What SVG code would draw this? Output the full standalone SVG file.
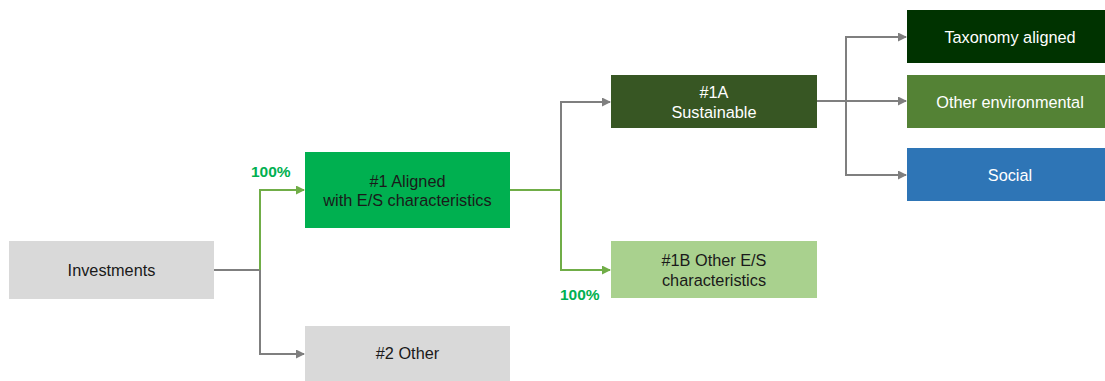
<svg xmlns="http://www.w3.org/2000/svg" width="1105" height="381" viewBox="0 0 1105 381">
  <style>
    .lbl { font-family: "Liberation Sans", Arial, sans-serif; font-size: 16.3px; text-anchor: middle; }
    .dark { fill: #1a1a1a; }
    .light { fill: #ffffff; }
    .pct { font-family: "Liberation Sans", Arial, sans-serif; font-size: 15.5px; font-weight: bold; fill: #00B050; }
    .gray { stroke: #7F7F7F; stroke-width: 2; fill: none; }
    .green { stroke: #70AD47; stroke-width: 2; fill: none; }
  </style>
  <defs>
    <marker id="ag" markerWidth="9" markerHeight="9" refX="8" refY="4.5" orient="auto" markerUnits="userSpaceOnUse">
      <path d="M0,0 L9,4.5 L0,9 Z" fill="#7F7F7F"/>
    </marker>
    <marker id="an" markerWidth="9" markerHeight="9" refX="8" refY="4.5" orient="auto" markerUnits="userSpaceOnUse">
      <path d="M0,0 L9,4.5 L0,9 Z" fill="#70AD47"/>
    </marker>
  </defs>
  <rect width="1105" height="381" fill="#ffffff"/>

  <g id="connectors">
    <path class="gray" d="M214,270 H260"/>
    <path class="green" d="M260,270 V190 H304" marker-end="url(#an)"/>
    <path class="gray" d="M260,270 V354 H304" marker-end="url(#ag)"/>
    <path class="green" d="M510,190 H561"/>
    <path class="gray" d="M561,190 V102 H610" marker-end="url(#ag)"/>
    <path class="green" d="M561,190 V270 H610" marker-end="url(#an)"/>
    <path class="gray" d="M817,101 H846"/>
    <path class="gray" d="M846,101 V37 H906" marker-end="url(#ag)"/>
    <path class="gray" d="M846,101 H906" marker-end="url(#ag)"/>
    <path class="gray" d="M846,101 V175 H906" marker-end="url(#ag)"/>
  </g>

  <g id="investments">
    <rect x="9" y="241" width="205" height="58" fill="#D9D9D9"/>
    <text class="lbl dark" x="111.5" y="276">Investments</text>
  </g>
  <g id="aligned">
    <rect x="305" y="152" width="205" height="76" fill="#00B050"/>
    <text class="lbl dark" x="407.5" y="187">#1 Aligned</text>
    <text class="lbl dark" x="407.5" y="206">with E/S characteristics</text>
  </g>
  <g id="other">
    <rect x="305" y="326" width="205" height="55" fill="#D9D9D9"/>
    <text class="lbl dark" x="407.5" y="359">#2 Other</text>
  </g>
  <g id="sustainable">
    <rect x="611" y="75" width="206" height="53" fill="#375623"/>
    <text class="lbl light" x="714" y="98">#1A</text>
    <text class="lbl light" x="714" y="118">Sustainable</text>
  </g>
  <g id="other-es">
    <rect x="611" y="241" width="206" height="57" fill="#A9D18E"/>
    <text class="lbl dark" x="714" y="266">#1B Other E/S</text>
    <text class="lbl dark" x="714" y="286">characteristics</text>
  </g>
  <g id="taxonomy">
    <rect x="907" y="10" width="198" height="53" fill="#003300"/>
    <text class="lbl light" x="1010" y="43">Taxonomy aligned</text>
  </g>
  <g id="other-env">
    <rect x="907" y="75" width="198" height="53" fill="#548235"/>
    <text class="lbl light" x="1010" y="108">Other environmental</text>
  </g>
  <g id="social">
    <rect x="907" y="148" width="198" height="53" fill="#2E75B6"/>
    <text class="lbl light" x="1010" y="181">Social</text>
  </g>

  <text class="pct" x="251" y="177">100%</text>
  <text class="pct" x="560" y="300">100%</text>
</svg>
